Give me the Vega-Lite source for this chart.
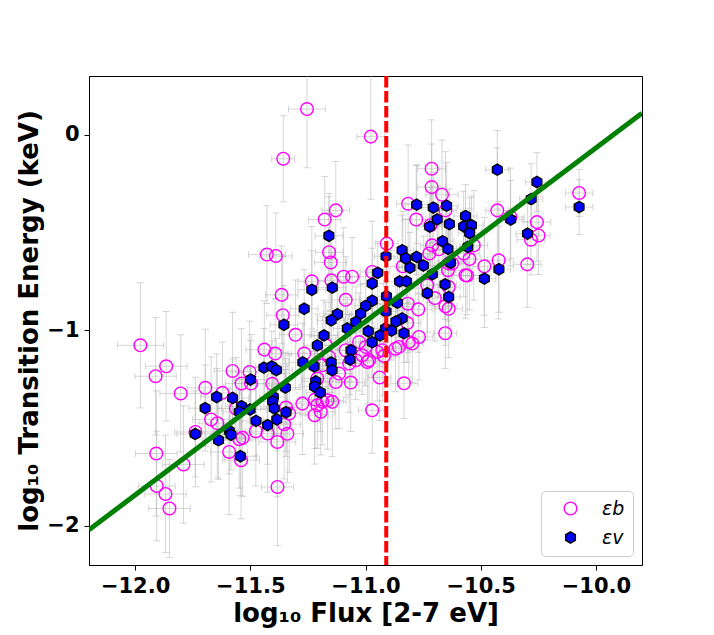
{
  "$schema": "https://vega.github.io/schema/vega-lite/v6.json",
  "width": 553,
  "height": 489,
  "autosize": "none",
  "padding": {"left": 89, "top": 76, "right": 72, "bottom": 70},
  "background": "white",
  "datasets": {
    "pts": [
      {"s": "εb", "x": -11.254, "y": 0.131, "ex": 0.08, "ey": 0.30},
      {"s": "εb", "x": -10.977, "y": -0.010, "ex": 0.06, "ey": 0.32},
      {"s": "εb", "x": -11.357, "y": -0.123, "ex": 0.05, "ey": 0.22},
      {"s": "εb", "x": -10.713, "y": -0.174, "ex": 0.06, "ey": 0.25},
      {"s": "εb", "x": -10.713, "y": -0.268, "ex": 0.06, "ey": 0.22},
      {"s": "εb", "x": -10.668, "y": -0.307, "ex": 0.07, "ey": 0.28},
      {"s": "εb", "x": -10.815, "y": -0.353, "ex": 0.05, "ey": 0.30},
      {"s": "εb", "x": -11.129, "y": -0.387, "ex": 0.06, "ey": 0.25},
      {"s": "εb", "x": -11.177, "y": -0.434, "ex": 0.07, "ey": 0.22},
      {"s": "εb", "x": -10.780, "y": -0.434, "ex": 0.06, "ey": 0.28},
      {"s": "εb", "x": -10.653, "y": -0.387, "ex": 0.05, "ey": 0.30},
      {"s": "εb", "x": -10.718, "y": -0.463, "ex": 0.06, "ey": 0.22},
      {"s": "εb", "x": -10.073, "y": -0.298, "ex": 0.06, "ey": 0.12},
      {"s": "εb", "x": -10.428, "y": -0.387, "ex": 0.05, "ey": 0.32},
      {"s": "εb", "x": -10.371, "y": -0.421, "ex": 0.06, "ey": 0.25},
      {"s": "εb", "x": -10.256, "y": -0.447, "ex": 0.06, "ey": 0.20},
      {"s": "εb", "x": -10.249, "y": -0.515, "ex": 0.05, "ey": 0.20},
      {"s": "εb", "x": -10.282, "y": -0.537, "ex": 0.06, "ey": 0.18},
      {"s": "εb", "x": -10.422, "y": -0.642, "ex": 0.05, "ey": 0.30},
      {"s": "εb", "x": -10.298, "y": -0.663, "ex": 0.06, "ey": 0.22},
      {"s": "εb", "x": -10.484, "y": -0.673, "ex": 0.07, "ey": 0.25},
      {"s": "εb", "x": -10.559, "y": -0.720, "ex": 0.06, "ey": 0.20},
      {"s": "εb", "x": -10.549, "y": -0.636, "ex": 0.05, "ey": 0.26},
      {"s": "εb", "x": -10.530, "y": -0.566, "ex": 0.06, "ey": 0.28},
      {"s": "εb", "x": -10.574, "y": -0.608, "ex": 0.07, "ey": 0.22},
      {"s": "εb", "x": -10.723, "y": -0.607, "ex": 0.06, "ey": 0.25},
      {"s": "εb", "x": -10.711, "y": -0.566, "ex": 0.05, "ey": 0.30},
      {"s": "εb", "x": -10.682, "y": -0.586, "ex": 0.06, "ey": 0.24},
      {"s": "εb", "x": -10.639, "y": -0.658, "ex": 0.05, "ey": 0.22},
      {"s": "εb", "x": -10.838, "y": -0.673, "ex": 0.06, "ey": 0.28},
      {"s": "εb", "x": -10.908, "y": -0.557, "ex": 0.05, "ey": 0.30},
      {"s": "εb", "x": -11.428, "y": -0.613, "ex": 0.08, "ey": 0.25},
      {"s": "εb", "x": -11.389, "y": -0.620, "ex": 0.07, "ey": 0.22},
      {"s": "εb", "x": -11.158, "y": -0.601, "ex": 0.06, "ey": 0.30},
      {"s": "εb", "x": -11.151, "y": -0.653, "ex": 0.07, "ey": 0.25},
      {"s": "εb", "x": -11.233, "y": -0.750, "ex": 0.06, "ey": 0.28},
      {"s": "εb", "x": -11.148, "y": -0.745, "ex": 0.06, "ey": 0.22},
      {"s": "εb", "x": -11.095, "y": -0.726, "ex": 0.07, "ey": 0.25},
      {"s": "εb", "x": -11.058, "y": -0.726, "ex": 0.06, "ey": 0.20},
      {"s": "εb", "x": -10.971, "y": -0.702, "ex": 0.05, "ey": 0.26},
      {"s": "εb", "x": -11.364, "y": -0.819, "ex": 0.07, "ey": 0.25},
      {"s": "εb", "x": -11.086, "y": -0.844, "ex": 0.06, "ey": 0.22},
      {"s": "εb", "x": -11.359, "y": -0.923, "ex": 0.07, "ey": 0.30},
      {"s": "εb", "x": -10.771, "y": -0.893, "ex": 0.06, "ey": 0.22},
      {"s": "εb", "x": -10.653, "y": -0.877, "ex": 0.05, "ey": 0.20},
      {"s": "εb", "x": -10.639, "y": -0.890, "ex": 0.06, "ey": 0.25},
      {"s": "εb", "x": -10.699, "y": -0.835, "ex": 0.05, "ey": 0.22},
      {"s": "εb", "x": -10.732, "y": -0.770, "ex": 0.06, "ey": 0.28},
      {"s": "εb", "x": -10.639, "y": -0.779, "ex": 0.05, "ey": 0.20},
      {"s": "εb", "x": -10.624, "y": -0.659, "ex": 0.06, "ey": 0.22},
      {"s": "εb", "x": -10.642, "y": -0.693, "ex": 0.06, "ey": 0.26},
      {"s": "εb", "x": -10.816, "y": -0.864, "ex": 0.05, "ey": 0.25},
      {"s": "εb", "x": -10.819, "y": -0.963, "ex": 0.06, "ey": 0.20},
      {"s": "εb", "x": -10.654, "y": -1.015, "ex": 0.05, "ey": 0.18},
      {"s": "εb", "x": -10.566, "y": -0.719, "ex": 0.06, "ey": 0.22},
      {"s": "εb", "x": -10.812, "y": -1.060, "ex": 0.06, "ey": 0.18},
      {"s": "εb", "x": -10.855, "y": -1.085, "ex": 0.05, "ey": 0.20},
      {"s": "εb", "x": -10.870, "y": -1.094, "ex": 0.06, "ey": 0.22},
      {"s": "εb", "x": -10.920, "y": -1.132, "ex": 0.05, "ey": 0.20},
      {"s": "εb", "x": -10.949, "y": -1.111, "ex": 0.06, "ey": 0.25},
      {"s": "εb", "x": -10.992, "y": -1.162, "ex": 0.05, "ey": 0.22},
      {"s": "εb", "x": -11.014, "y": -1.128, "ex": 0.06, "ey": 0.20},
      {"s": "εb", "x": -11.071, "y": -1.170, "ex": 0.06, "ey": 0.25},
      {"s": "εb", "x": -11.158, "y": -1.136, "ex": 0.07, "ey": 0.22},
      {"s": "εb", "x": -11.115, "y": -1.221, "ex": 0.06, "ey": 0.28},
      {"s": "εb", "x": -11.064, "y": -1.267, "ex": 0.06, "ey": 0.25},
      {"s": "εb", "x": -10.939, "y": -1.241, "ex": 0.05, "ey": 0.22},
      {"s": "εb", "x": -10.833, "y": -1.271, "ex": 0.06, "ey": 0.18},
      {"s": "εb", "x": -11.165, "y": -1.358, "ex": 0.07, "ey": 0.25},
      {"s": "εb", "x": -10.971, "y": -1.409, "ex": 0.06, "ey": 0.22},
      {"s": "εb", "x": -10.797, "y": -1.068, "ex": 0.05, "ey": 0.20},
      {"s": "εb", "x": -10.768, "y": -1.034, "ex": 0.06, "ey": 0.22},
      {"s": "εb", "x": -11.028, "y": -1.060, "ex": 0.05, "ey": 0.25},
      {"s": "εb", "x": -11.172, "y": -1.077, "ex": 0.06, "ey": 0.22},
      {"s": "εb", "x": -11.086, "y": -1.102, "ex": 0.06, "ey": 0.24},
      {"s": "εb", "x": -11.042, "y": -1.153, "ex": 0.05, "ey": 0.20},
      {"s": "εb", "x": -10.985, "y": -1.153, "ex": 0.06, "ey": 0.22},
      {"s": "εb", "x": -10.927, "y": -1.102, "ex": 0.05, "ey": 0.26},
      {"s": "εb", "x": -10.999, "y": -1.085, "ex": 0.06, "ey": 0.20},
      {"s": "εb", "x": -11.304, "y": -1.023, "ex": 0.07, "ey": 0.28},
      {"s": "εb", "x": -11.339, "y": -1.529, "ex": 0.07, "ey": 0.25},
      {"s": "εb", "x": -11.383, "y": -1.571, "ex": 0.08, "ey": 0.28},
      {"s": "εb", "x": -11.221, "y": -1.434, "ex": 0.06, "ey": 0.25},
      {"s": "εb", "x": -11.209, "y": -1.383, "ex": 0.07, "ey": 0.22},
      {"s": "εb", "x": -11.144, "y": -1.366, "ex": 0.06, "ey": 0.28},
      {"s": "εb", "x": -11.129, "y": -1.264, "ex": 0.06, "ey": 0.24},
      {"s": "εb", "x": -11.209, "y": -1.247, "ex": 0.07, "ey": 0.22},
      {"s": "εb", "x": -11.274, "y": -1.375, "ex": 0.07, "ey": 0.26},
      {"s": "εb", "x": -11.331, "y": -1.426, "ex": 0.07, "ey": 0.30},
      {"s": "εb", "x": -11.439, "y": -1.099, "ex": 0.08, "ey": 0.25},
      {"s": "εb", "x": -11.392, "y": -1.119, "ex": 0.07, "ey": 0.28},
      {"s": "εb", "x": -11.577, "y": -1.208, "ex": 0.08, "ey": 0.30},
      {"s": "εb", "x": -11.503, "y": -1.213, "ex": 0.08, "ey": 0.26},
      {"s": "εb", "x": -11.266, "y": -1.119, "ex": 0.07, "ey": 0.22},
      {"s": "εb", "x": -11.187, "y": -1.179, "ex": 0.06, "ey": 0.25},
      {"s": "εb", "x": -11.695, "y": -1.294, "ex": 0.08, "ey": 0.30},
      {"s": "εb", "x": -11.621, "y": -1.320, "ex": 0.08, "ey": 0.26},
      {"s": "εb", "x": -11.538, "y": -1.272, "ex": 0.07, "ey": 0.28},
      {"s": "εb", "x": -11.497, "y": -1.272, "ex": 0.08, "ey": 0.25},
      {"s": "εb", "x": -11.405, "y": -1.274, "ex": 0.07, "ey": 0.22},
      {"s": "εb", "x": -11.802, "y": -1.323, "ex": 0.09, "ey": 0.30},
      {"s": "εb", "x": -11.670, "y": -1.456, "ex": 0.08, "ey": 0.32},
      {"s": "εb", "x": -11.643, "y": -1.475, "ex": 0.08, "ey": 0.28},
      {"s": "εb", "x": -11.562, "y": -1.400, "ex": 0.08, "ey": 0.26},
      {"s": "εb", "x": -11.533, "y": -1.550, "ex": 0.08, "ey": 0.30},
      {"s": "εb", "x": -11.548, "y": -1.557, "ex": 0.07, "ey": 0.25},
      {"s": "εb", "x": -11.476, "y": -1.516, "ex": 0.08, "ey": 0.28},
      {"s": "εb", "x": -11.425, "y": -1.528, "ex": 0.07, "ey": 0.30},
      {"s": "εb", "x": -11.345, "y": -1.395, "ex": 0.07, "ey": 0.25},
      {"s": "εb", "x": -11.353, "y": -1.480, "ex": 0.07, "ey": 0.28},
      {"s": "εb", "x": -11.194, "y": -1.417, "ex": 0.06, "ey": 0.22},
      {"s": "εb", "x": -11.219, "y": -1.354, "ex": 0.07, "ey": 0.25},
      {"s": "εb", "x": -11.187, "y": -1.366, "ex": 0.06, "ey": 0.22},
      {"s": "εb", "x": -11.592, "y": -1.622, "ex": 0.08, "ey": 0.32},
      {"s": "εb", "x": -11.738, "y": -1.520, "ex": 0.09, "ey": 0.28},
      {"s": "εb", "x": -11.540, "y": -1.664, "ex": 0.08, "ey": 0.30},
      {"s": "εb", "x": -11.977, "y": -1.077, "ex": 0.10, "ey": 0.32},
      {"s": "εb", "x": -11.865, "y": -1.184, "ex": 0.09, "ey": 0.28},
      {"s": "εb", "x": -11.911, "y": -1.235, "ex": 0.09, "ey": 0.30},
      {"s": "εb", "x": -11.908, "y": -1.630, "ex": 0.09, "ey": 0.32},
      {"s": "εb", "x": -11.790, "y": -1.686, "ex": 0.09, "ey": 0.30},
      {"s": "εb", "x": -11.906, "y": -1.796, "ex": 0.08, "ey": 0.28},
      {"s": "εb", "x": -11.868, "y": -1.837, "ex": 0.09, "ey": 0.30},
      {"s": "εb", "x": -11.851, "y": -1.911, "ex": 0.09, "ey": 0.25},
      {"s": "εb", "x": -11.382, "y": -1.801, "ex": 0.07, "ey": 0.30},
      {"s": "εv", "x": -10.428, "y": -0.179, "ex": 0.05, "ey": 0.20},
      {"s": "εv", "x": -10.256, "y": -0.242, "ex": 0.05, "ey": 0.15},
      {"s": "εv", "x": -10.281, "y": -0.329, "ex": 0.05, "ey": 0.18},
      {"s": "εv", "x": -10.073, "y": -0.370, "ex": 0.06, "ey": 0.14},
      {"s": "εv", "x": -10.370, "y": -0.434, "ex": 0.05, "ey": 0.20},
      {"s": "εv", "x": -10.297, "y": -0.506, "ex": 0.05, "ey": 0.16},
      {"s": "εv", "x": -10.778, "y": -0.358, "ex": 0.05, "ey": 0.20},
      {"s": "εv", "x": -10.706, "y": -0.373, "ex": 0.05, "ey": 0.18},
      {"s": "εv", "x": -10.648, "y": -0.363, "ex": 0.05, "ey": 0.22},
      {"s": "εv", "x": -10.689, "y": -0.433, "ex": 0.05, "ey": 0.16},
      {"s": "εv", "x": -10.636, "y": -0.457, "ex": 0.05, "ey": 0.18},
      {"s": "εv", "x": -10.721, "y": -0.470, "ex": 0.05, "ey": 0.20},
      {"s": "εv", "x": -10.566, "y": -0.416, "ex": 0.05, "ey": 0.16},
      {"s": "εv", "x": -10.574, "y": -0.469, "ex": 0.05, "ey": 0.18},
      {"s": "εv", "x": -10.540, "y": -0.463, "ex": 0.05, "ey": 0.15},
      {"s": "εv", "x": -10.548, "y": -0.503, "ex": 0.05, "ey": 0.18},
      {"s": "εv", "x": -11.159, "y": -0.517, "ex": 0.06, "ey": 0.20},
      {"s": "εv", "x": -10.666, "y": -0.545, "ex": 0.05, "ey": 0.16},
      {"s": "εv", "x": -10.642, "y": -0.584, "ex": 0.05, "ey": 0.18},
      {"s": "εv", "x": -10.556, "y": -0.574, "ex": 0.05, "ey": 0.15},
      {"s": "εv", "x": -10.841, "y": -0.591, "ex": 0.05, "ey": 0.18},
      {"s": "εv", "x": -10.826, "y": -0.632, "ex": 0.05, "ey": 0.20},
      {"s": "εv", "x": -10.778, "y": -0.625, "ex": 0.05, "ey": 0.16},
      {"s": "εv", "x": -10.807, "y": -0.680, "ex": 0.05, "ey": 0.18},
      {"s": "εv", "x": -10.749, "y": -0.669, "ex": 0.05, "ey": 0.15},
      {"s": "εv", "x": -10.631, "y": -0.655, "ex": 0.05, "ey": 0.18},
      {"s": "εv", "x": -10.911, "y": -0.622, "ex": 0.05, "ey": 0.20},
      {"s": "εv", "x": -10.947, "y": -0.706, "ex": 0.05, "ey": 0.16},
      {"s": "εv", "x": -10.971, "y": -0.761, "ex": 0.05, "ey": 0.18},
      {"s": "εv", "x": -10.852, "y": -0.750, "ex": 0.05, "ey": 0.15},
      {"s": "εv", "x": -10.822, "y": -0.750, "ex": 0.05, "ey": 0.18},
      {"s": "εv", "x": -10.710, "y": -0.714, "ex": 0.05, "ey": 0.16},
      {"s": "εv", "x": -10.655, "y": -0.765, "ex": 0.05, "ey": 0.18},
      {"s": "εv", "x": -10.732, "y": -0.810, "ex": 0.05, "ey": 0.20},
      {"s": "εv", "x": -10.639, "y": -0.830, "ex": 0.05, "ey": 0.16},
      {"s": "εv", "x": -10.484, "y": -0.736, "ex": 0.05, "ey": 0.25},
      {"s": "εv", "x": -10.421, "y": -0.688, "ex": 0.05, "ey": 0.22},
      {"s": "εv", "x": -11.233, "y": -0.793, "ex": 0.06, "ey": 0.20},
      {"s": "εv", "x": -11.144, "y": -0.782, "ex": 0.06, "ey": 0.18},
      {"s": "εv", "x": -11.266, "y": -0.890, "ex": 0.06, "ey": 0.20},
      {"s": "εv", "x": -10.971, "y": -0.849, "ex": 0.05, "ey": 0.16},
      {"s": "εv", "x": -10.999, "y": -0.875, "ex": 0.05, "ey": 0.18},
      {"s": "εv", "x": -11.021, "y": -0.915, "ex": 0.05, "ey": 0.15},
      {"s": "εv", "x": -11.122, "y": -0.918, "ex": 0.06, "ey": 0.18},
      {"s": "εv", "x": -10.841, "y": -0.939, "ex": 0.05, "ey": 0.16},
      {"s": "εv", "x": -10.909, "y": -0.826, "ex": 0.05, "ey": 0.18},
      {"s": "εv", "x": -10.833, "y": -1.015, "ex": 0.05, "ey": 0.15},
      {"s": "εv", "x": -11.354, "y": -0.972, "ex": 0.06, "ey": 0.20},
      {"s": "εv", "x": -11.180, "y": -1.026, "ex": 0.06, "ey": 0.18},
      {"s": "εv", "x": -11.209, "y": -1.077, "ex": 0.06, "ey": 0.16},
      {"s": "εv", "x": -11.272, "y": -1.164, "ex": 0.06, "ey": 0.20},
      {"s": "εv", "x": -11.223, "y": -1.184, "ex": 0.06, "ey": 0.18},
      {"s": "εv", "x": -11.441, "y": -1.191, "ex": 0.07, "ey": 0.20},
      {"s": "εv", "x": -11.407, "y": -1.185, "ex": 0.07, "ey": 0.18},
      {"s": "εv", "x": -11.387, "y": -1.203, "ex": 0.07, "ey": 0.16},
      {"s": "εv", "x": -11.499, "y": -1.252, "ex": 0.07, "ey": 0.20},
      {"s": "εv", "x": -11.348, "y": -1.293, "ex": 0.06, "ey": 0.18},
      {"s": "εv", "x": -11.216, "y": -1.261, "ex": 0.06, "ey": 0.16},
      {"s": "εv", "x": -11.221, "y": -1.288, "ex": 0.06, "ey": 0.18},
      {"s": "εv", "x": -11.196, "y": -1.318, "ex": 0.06, "ey": 0.20},
      {"s": "εv", "x": -11.646, "y": -1.341, "ex": 0.07, "ey": 0.22},
      {"s": "εv", "x": -11.577, "y": -1.346, "ex": 0.07, "ey": 0.20},
      {"s": "εv", "x": -11.696, "y": -1.398, "ex": 0.07, "ey": 0.22},
      {"s": "εv", "x": -11.538, "y": -1.388, "ex": 0.07, "ey": 0.18},
      {"s": "εv", "x": -11.548, "y": -1.417, "ex": 0.07, "ey": 0.20},
      {"s": "εv", "x": -11.501, "y": -1.405, "ex": 0.07, "ey": 0.16},
      {"s": "εv", "x": -11.400, "y": -1.341, "ex": 0.06, "ey": 0.20},
      {"s": "εv", "x": -11.403, "y": -1.364, "ex": 0.06, "ey": 0.18},
      {"s": "εv", "x": -11.396, "y": -1.399, "ex": 0.06, "ey": 0.16},
      {"s": "εv", "x": -11.345, "y": -1.419, "ex": 0.06, "ey": 0.20},
      {"s": "εv", "x": -11.475, "y": -1.463, "ex": 0.07, "ey": 0.18},
      {"s": "εv", "x": -11.425, "y": -1.485, "ex": 0.07, "ey": 0.20},
      {"s": "εv", "x": -11.385, "y": -1.456, "ex": 0.06, "ey": 0.16},
      {"s": "εv", "x": -11.591, "y": -1.515, "ex": 0.07, "ey": 0.22},
      {"s": "εv", "x": -11.584, "y": -1.534, "ex": 0.07, "ey": 0.18},
      {"s": "εv", "x": -11.638, "y": -1.562, "ex": 0.07, "ey": 0.20},
      {"s": "εv", "x": -11.739, "y": -1.530, "ex": 0.08, "ey": 0.22},
      {"s": "εv", "x": -11.543, "y": -1.644, "ex": 0.07, "ey": 0.20},
      {"s": "εv", "x": -11.149, "y": -0.949, "ex": 0.06, "ey": 0.18},
      {"s": "εv", "x": -11.079, "y": -0.991, "ex": 0.06, "ey": 0.16},
      {"s": "εv", "x": -11.042, "y": -0.958, "ex": 0.05, "ey": 0.18},
      {"s": "εv", "x": -10.988, "y": -1.005, "ex": 0.05, "ey": 0.15},
      {"s": "εv", "x": -10.971, "y": -1.061, "ex": 0.05, "ey": 0.18},
      {"s": "εv", "x": -11.063, "y": -1.102, "ex": 0.06, "ey": 0.16},
      {"s": "εv", "x": -11.067, "y": -1.150, "ex": 0.06, "ey": 0.18},
      {"s": "εv", "x": -11.149, "y": -1.165, "ex": 0.06, "ey": 0.20},
      {"s": "εv", "x": -11.145, "y": -1.204, "ex": 0.06, "ey": 0.16},
      {"s": "εv", "x": -10.913, "y": -0.991, "ex": 0.05, "ey": 0.18},
      {"s": "εv", "x": -10.887, "y": -1.002, "ex": 0.05, "ey": 0.15},
      {"s": "εv", "x": -10.868, "y": -0.955, "ex": 0.05, "ey": 0.18},
      {"s": "εv", "x": -10.911, "y": -0.904, "ex": 0.05, "ey": 0.16},
      {"s": "εv", "x": -10.862, "y": -0.859, "ex": 0.05, "ey": 0.18},
      {"s": "εv", "x": -10.937, "y": -1.026, "ex": 0.05, "ey": 0.16}
    ],
    "fit": [
      {"x": -12.2, "y": -2.02},
      {"x": -9.8, "y": 0.11}
    ],
    "cut": [
      {"x": -10.91, "y": 0.3},
      {"x": -10.91, "y": -2.2}
    ]
  },
  "encoding": {
    "x": {
      "field": "x",
      "type": "quantitative",
      "scale": {"domain": [-12.2, -9.8], "nice": false, "zero": false},
      "axis": {
        "title": "log₁₀ Flux [2-7 eV]",
        "values": [-12, -11.5, -11, -10.5, -10],
        "labelExpr": "replace(format(datum.value, '.1f'), '-', '−')",
        "grid": false
      }
    },
    "y": {
      "field": "y",
      "type": "quantitative",
      "scale": {"domain": [-2.2, 0.3], "nice": false, "zero": false},
      "axis": {
        "title": "log₁₀ Transition Energy (keV)",
        "values": [-2, -1, 0],
        "labelExpr": "replace(format(datum.value, 'd'), '-', '−')",
        "grid": false
      }
    }
  },
  "layer": [
    {
      "data": {"name": "pts"},
      "mark": {"type": "errorbar", "ticks": {"size": 7}, "color": "#b4b4b4", "opacity": 0.55, "thickness": 1, "clip": true},
      "encoding": {"yError": {"field": "ey"}}
    },
    {
      "data": {"name": "pts"},
      "mark": {"type": "errorbar", "ticks": {"size": 7}, "color": "#b4b4b4", "opacity": 0.55, "thickness": 1, "clip": true},
      "encoding": {"xError": {"field": "ex"}}
    },
    {
      "data": {"name": "pts"},
      "mark": {"type": "point", "filled": true, "opacity": 1, "strokeWidth": 1.4, "clip": true},
      "encoding": {
        "shape": {
          "field": "s",
          "type": "nominal",
          "scale": {"domain": ["εb", "εv"], "range": ["circle", "M0,-1L0.866,-0.5L0.866,0.5L0,1L-0.866,0.5L-0.866,-0.5Z"]},
          "legend": {"title": null}
        },
        "fill": {
          "field": "s",
          "type": "nominal",
          "scale": {"domain": ["εb", "εv"], "range": ["transparent", "#0000ff"]},
          "legend": {"title": null}
        },
        "stroke": {
          "field": "s",
          "type": "nominal",
          "scale": {"domain": ["εb", "εv"], "range": ["#ff00ff", "#000000"]},
          "legend": {"title": null}
        },
        "size": {
          "field": "s",
          "type": "nominal",
          "scale": {"domain": ["εb", "εv"], "range": [160, 125]},
          "legend": {"title": null}
        }
      }
    },
    {
      "data": {"name": "fit"},
      "mark": {"type": "line", "color": "#008000", "strokeWidth": 5, "clip": true},
      "encoding": {}
    },
    {
      "data": {"name": "cut"},
      "mark": {"type": "line", "color": "#ff0000", "strokeWidth": 4, "strokeDash": [11.5, 3.5], "clip": true},
      "encoding": {"order": {"field": "y", "sort": "descending"}}
    }
  ],
  "config": {
    "font": "DejaVu Sans",
    "view": {"stroke": "#000000", "strokeWidth": 1},
    "axis": {
      "labelFont": "DejaVu Sans",
      "labelFontWeight": "bold",
      "labelFontSize": 21,
      "labelColor": "#000000",
      "labelPadding": 5,
      "titleFont": "DejaVu Sans",
      "titleFontWeight": "bold",
      "titleFontSize": 26,
      "titleColor": "#000000",
      "titlePadding": 4,
      "domainColor": "#000000",
      "tickColor": "#000000",
      "tickSize": 5
    },
    "legend": {
      "orient": "bottom-right",
      "offset": 9,
      "padding": 8,
      "symbolOffset": 12,
      "labelOffset": 22,
      "rowPadding": 9,
      "labelFont": "DejaVu Sans",
      "labelFontStyle": "italic",
      "labelFontSize": 19,
      "labelColor": "#000000",
      "symbolStrokeWidth": 1.4,
      "strokeColor": "#cccccc",
      "fillColor": "#ffffff",
      "cornerRadius": 4
    }
  }
}
